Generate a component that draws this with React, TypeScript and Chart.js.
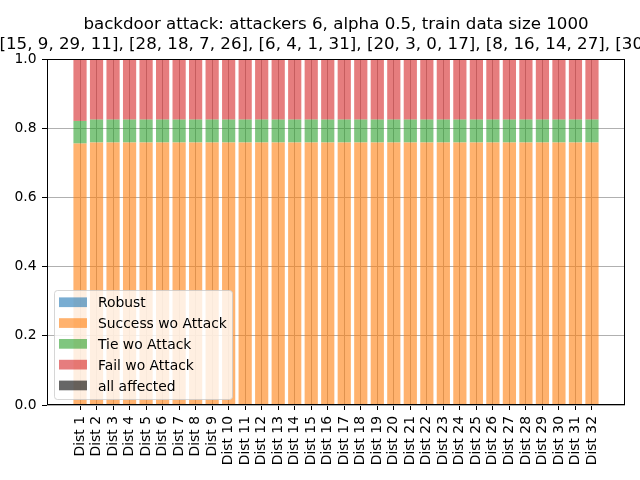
import React, { useEffect, useRef } from "react";
import { Chart, registerables } from "chart.js";

Chart.register(...registerables);

const titleLine1 = "backdoor attack: attackers 6, alpha 0.5, train data size 1000";
const titleLine2 = "[15, 9, 29, 11], [28, 18, 7, 26], [6, 4, 1, 31], [20, 3, 0, 17], [8, 16, 14, 27], [30";

const categories = [
  "Dist 1", "Dist 2", "Dist 3", "Dist 4", "Dist 5", "Dist 6", "Dist 7", "Dist 8",
  "Dist 9", "Dist 10", "Dist 11", "Dist 12", "Dist 13", "Dist 14", "Dist 15", "Dist 16",
  "Dist 17", "Dist 18", "Dist 19", "Dist 20", "Dist 21", "Dist 22", "Dist 23", "Dist 24",
  "Dist 25", "Dist 26", "Dist 27", "Dist 28", "Dist 29", "Dist 30", "Dist 31", "Dist 32",
];

const robust = [0, 0, 0, 0, 0, 0, 0, 0, 0, 0, 0, 0, 0, 0, 0, 0, 0, 0, 0, 0, 0, 0, 0, 0, 0, 0, 0, 0, 0, 0, 0, 0];
const successWoAttack = [
  0.756, 0.759, 0.759, 0.759, 0.759, 0.759, 0.759, 0.759, 0.759, 0.759, 0.759, 0.759, 0.759, 0.759, 0.759, 0.759,
  0.759, 0.759, 0.759, 0.759, 0.759, 0.759, 0.759, 0.759, 0.759, 0.759, 0.759, 0.759, 0.759, 0.759, 0.759, 0.759,
];
const tieWoAttack = [
  0.065, 0.066, 0.066, 0.066, 0.066, 0.066, 0.066, 0.066, 0.066, 0.066, 0.066, 0.066, 0.066, 0.066, 0.066, 0.066,
  0.066, 0.066, 0.066, 0.066, 0.066, 0.066, 0.066, 0.066, 0.066, 0.066, 0.066, 0.066, 0.066, 0.066, 0.066, 0.066,
];
const failWoAttack = [
  0.179, 0.175, 0.175, 0.175, 0.175, 0.175, 0.175, 0.175, 0.175, 0.175, 0.175, 0.175, 0.175, 0.175, 0.175, 0.175,
  0.175, 0.175, 0.175, 0.175, 0.175, 0.175, 0.175, 0.175, 0.175, 0.175, 0.175, 0.175, 0.175, 0.175, 0.175, 0.175,
];
const allAffected = [0, 0, 0, 0, 0, 0, 0, 0, 0, 0, 0, 0, 0, 0, 0, 0, 0, 0, 0, 0, 0, 0, 0, 0, 0, 0, 0, 0, 0, 0, 0, 0];

const yTicks = [0, 0.2, 0.4, 0.6, 0.8, 1.0];

const seriesNames = ["Robust", "Success wo Attack", "Tie wo Attack", "Fail wo Attack", "all affected"];
const seriesColors = [
  "rgba(31,119,180,0.6)",
  "rgba(255,127,14,0.6)",
  "rgba(44,160,44,0.6)",
  "rgba(214,39,40,0.6)",
  "rgba(0,0,0,0.6)",
];
const seriesValues = [robust, successWoAttack, tieWoAttack, failWoAttack, allAffected];

const FONT = "'DejaVu Sans', sans-serif";

const decorPlugin = {
  id: "decor",
  afterDraw(chart: any) {
    const ctx = chart.ctx as CanvasRenderingContext2D;
    const ca = chart.chartArea;
    ctx.save();
    // frame
    ctx.strokeStyle = "#000";
    ctx.lineWidth = 1;
    const l = Math.round(ca.left) + 0.5;
    const t = Math.round(ca.top) + 0.5;
    const r = Math.round(ca.right) - 0.5;
    const b = Math.round(ca.bottom) - 0.5;
    ctx.strokeRect(l, t, r - l, b - t);

    // title
    ctx.fillStyle = "#000";
    ctx.font = `16.67px ${FONT}`;
    ctx.textBaseline = "alphabetic";
    ctx.textAlign = "center";
    ctx.fillText(titleLine1, (ca.left + ca.right) / 2, 29.3);
    ctx.textAlign = "left";
    ctx.fillText(titleLine2, -0.5, 48.7);

    // legend
    const bx = 54.5, by = 290.5, bw = 178, bh = 109, rad = 3;
    ctx.beginPath();
    ctx.moveTo(bx + rad, by);
    ctx.lineTo(bx + bw - rad, by);
    ctx.quadraticCurveTo(bx + bw, by, bx + bw, by + rad);
    ctx.lineTo(bx + bw, by + bh - rad);
    ctx.quadraticCurveTo(bx + bw, by + bh, bx + bw - rad, by + bh);
    ctx.lineTo(bx + rad, by + bh);
    ctx.quadraticCurveTo(bx, by + bh, bx, by + bh - rad);
    ctx.lineTo(bx, by + rad);
    ctx.quadraticCurveTo(bx, by, bx + rad, by);
    ctx.closePath();
    ctx.fillStyle = "rgba(255,255,255,0.8)";
    ctx.fill();
    ctx.strokeStyle = "rgba(204,204,204,0.8)";
    ctx.stroke();

    ctx.font = `13.89px ${FONT}`;
    ctx.textAlign = "left";
    ctx.textBaseline = "alphabetic";
    for (let i = 0; i < seriesNames.length; i++) {
      const cy = 302.2 + i * 20.8;
      ctx.fillStyle = seriesColors[i];
      ctx.fillRect(59, cy - 4.8, 28, 9.7);
      ctx.fillStyle = "#000";
      ctx.fillText(seriesNames[i], 98, cy + 5.1);
    }
    ctx.restore();
  },
};

export default function App() {
  const canvasRef = useRef<HTMLCanvasElement | null>(null);

  useEffect(() => {
    const canvas = canvasRef.current;
    if (!canvas) return;
    Chart.defaults.font.family = FONT;
    const chart = new Chart(canvas, {
      type: "bar",
      data: {
        datasets: seriesNames.map((name, si) => ({
          label: name,
          data: seriesValues[si].map((v, i) => ({ x: i, y: v })),
          backgroundColor: seriesColors[si],
          borderWidth: 0,
          barPercentage: 0.8,
          categoryPercentage: 1.0,
        })),
      },
      options: {
        animation: false,
        responsive: false,
        devicePixelRatio: 1,
        layout: { padding: { left: 0, right: 15, top: 59, bottom: 0 } },
        plugins: {
          legend: { display: false },
          title: { display: false },
          tooltip: { enabled: false },
        },
        scales: {
          x: {
            type: "linear",
            min: -2,
            max: 33,
            offset: false,
            stacked: true,
            z: 1,
            afterBuildTicks: (axis: any) => {
              axis.ticks = categories.map((_, i) => ({ value: i }));
            },
            afterFit: (axis: any) => {
              axis.height = 75;
            },
            ticks: {
              autoSkip: false,
              minRotation: 90,
              maxRotation: 90,
              padding: 6,
              color: "#000",
              font: { size: 13.89, family: FONT },
              callback: (value: any) => categories[Math.round(Number(value))] ?? "",
            },
            grid: {
              offset: false,
              color: "#b0b0b0",
              lineWidth: 1,
              tickColor: "#000",
              tickLength: 5,
              drawTicks: true,
            },
            border: { display: false },
          },
          y: {
            type: "linear",
            min: 0,
            max: 1,
            stacked: true,
            z: 1,
            afterBuildTicks: (axis: any) => {
              axis.ticks = yTicks.map((v) => ({ value: v }));
            },
            afterFit: (axis: any) => {
              axis.width = 47;
            },
            ticks: {
              padding: 5.5,
              color: "#000",
              font: { size: 13.89, family: FONT },
              callback: (value: any) => Number(value).toFixed(1),
            },
            grid: {
              color: "#b0b0b0",
              lineWidth: 1,
              tickColor: "#000",
              tickLength: 5,
            },
            border: { display: false },
          },
        },
      },
      plugins: [decorPlugin],
    });
    return () => chart.destroy();
  }, []);

  return (
    <div style={{ position: "absolute", left: 0, top: 0, width: 640, height: 480, background: "#fff" }}>
      <canvas ref={canvasRef} width={640} height={480} style={{ width: 640, height: 480, display: "block" }} />
    </div>
  );
}
